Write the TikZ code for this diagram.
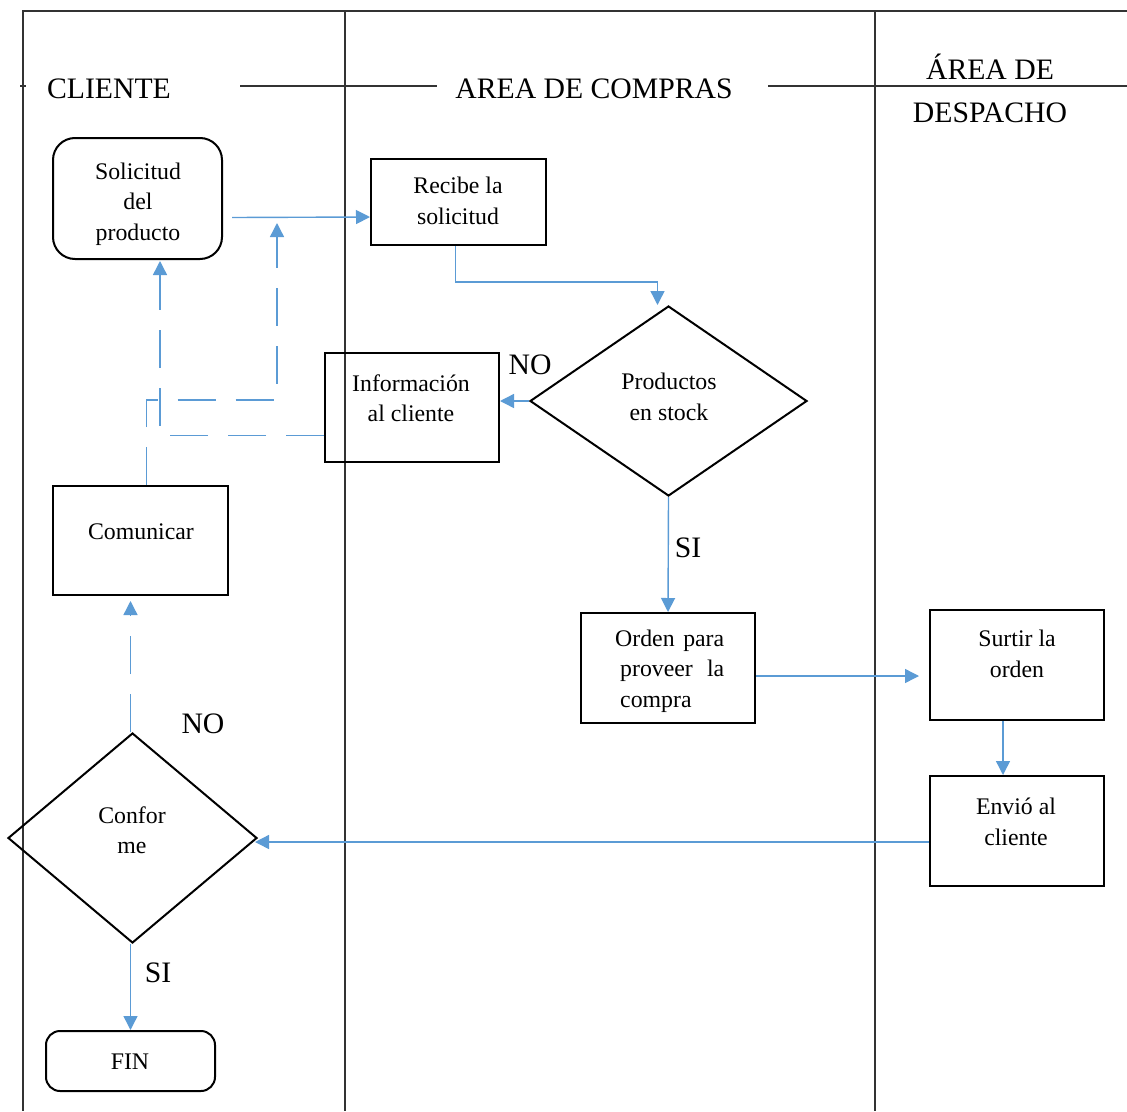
\documentclass[tikz,border=0pt]{standalone}
\usepackage{fontspec}
\setmainfont{Liberation Serif}
\usetikzlibrary{shapes.geometric,arrows.meta}
\definecolor{flowblue}{HTML}{5B9BD5}
\definecolor{lanegray}{HTML}{333333}
\begin{document}
\begin{tikzpicture}[x=1pt,y=-1pt,
  lane/.style={draw=lanegray,line width=1.1pt},
  box/.style={draw=black,line width=2pt,rectangle,inner sep=0pt},
  roundbox/.style={box,rounded corners=22pt},
  decision/.style={draw=black,line width=2pt,diamond,inner sep=0pt},
  txt/.style={font=\fontsize{23.8}{30.5}\selectfont,align=center,inner sep=0pt},
  head/.style={font=\fontsize{29.7}{34}\selectfont,inner sep=0pt},
  flow/.style={draw=flowblue,line width=1.4pt,-{Triangle[length=14pt,width=14pt]}},
  dashflow/.style={flow,dash pattern=on 38pt off 20pt},
]
\useasboundingbox (0,0) rectangle (1127,1111);

% swimlane frame
\draw[lane] (22,11) -- (1127,11);
\draw[lane] (23,11) -- (23,1111);
\draw[lane] (345,11) -- (345,1111);
\draw[lane] (875,11) -- (875,1111);
\draw[lane] (20,86) -- (26,86);
\draw[lane] (240,86) -- (437,86);
\draw[lane] (768,86) -- (1127,86);

% lane titles
\node[head] (hcli) at (109,89) {CLIENTE};
\node[head] (hcom) at (594,89) {AREA DE COMPRAS};
\node[head] (hdes1) at (990,67) {ÁREA DE};
\node[head] (hdes2) at (990,113) {DESPACHO};

% shapes
\node[roundbox,minimum width=169pt,minimum height=121pt] (sol) at (137.5,198.5) {};
\node[txt] (tsol) at (138,204) {Solicitud\\del\\producto};

\node[box,minimum width=175pt,minimum height=86pt] (rec) at (458.5,202) {};
\node[txt] (trec) at (458,201) {Recibe la\\solicitud};

\node[decision,minimum width=277pt,minimum height=190pt] (stk) at (668.5,401) {};
\node[txt] (tstk) at (669,397) {Productos\\en stock};

\node[box,minimum width=174pt,minimum height=109pt] (inf) at (412,407.5) {};
\node[txt] (tinf) at (411,398) {Información\\al cliente};

\node[box,minimum width=175pt,minimum height=109pt] (com) at (140.5,540.5) {};
\node[txt] (tcom) at (141,532) {Comunicar};

\node[decision,minimum width=249pt,minimum height=210pt] (conf) at (132.5,838) {};
\node[txt] (tconf) at (132,830) {Confor\\me};

\node[roundbox,rounded corners=14pt,minimum width=169pt,minimum height=60pt] (fin) at (130.5,1061) {};
\node[txt] (tfin) at (130,1062) {FIN};

\node[box,minimum width=174pt,minimum height=110pt] (ord) at (668,668) {};
\node[txt,align=left,anchor=west] (tord) at (620,671)
  {\hspace*{-5pt}\makebox[109pt][s]{Orden para}\\\makebox[104pt][s]{proveer la}\\compra};

\node[box,minimum width=174pt,minimum height=110pt] (sur) at (1017,665) {};
\node[txt] (tsur) at (1017,654) {Surtir la\\orden};

\node[box,minimum width=174pt,minimum height=110pt] (env) at (1017,831) {};
\node[txt] (tenv) at (1016,822) {Envió al\\cliente};

% branch labels
\node[head] (lno1) at (530,365) {NO};
\node[head] (lsi1) at (688,548) {SI};
\node[head] (lno2) at (203,724) {NO};
\node[head] (lsi2) at (158,973) {SI};

% connectors
\draw[flow] ([xshift=9pt,yshift=-19pt]sol.east) -- ([yshift=-15pt]rec.west);
\draw[flow] ([xshift=-3pt]rec.south) -- ++(0,36) -| ([xshift=-11pt]stk.north);
\draw[flow] (stk.west) -- (inf.east |- stk.west);
\draw[flow] (stk.south) -- (ord.north);
\draw[flow] ([yshift=-8pt]ord.east) -- ([xshift=-10pt,yshift=-11pt]sur.west);
\draw[flow] ([xshift=-14pt]sur.south) -- ([xshift=-14pt]env.north);
\coordinate (envout) at ([yshift=-11pt]env.west);
\draw[flow] (envout) -- ([xshift=-3pt]conf.east |- envout);
\draw[flow] ([xshift=-2pt]conf.south) -- (fin.north);

% return paths
\draw[dashflow] ([xshift=-2pt]conf.north) -- ([xshift=-10pt,yshift=-5pt]com.south);
\draw[dashflow] ([xshift=6pt]com.north) -- ++(0,-85) -| ([xshift=139.5pt,yshift=37pt]sol.south);
\draw[dashflow] ([yshift=-28pt]inf.west) -| ([xshift=22.5pt,yshift=-1pt]sol.south);
\end{tikzpicture}
\end{document}
